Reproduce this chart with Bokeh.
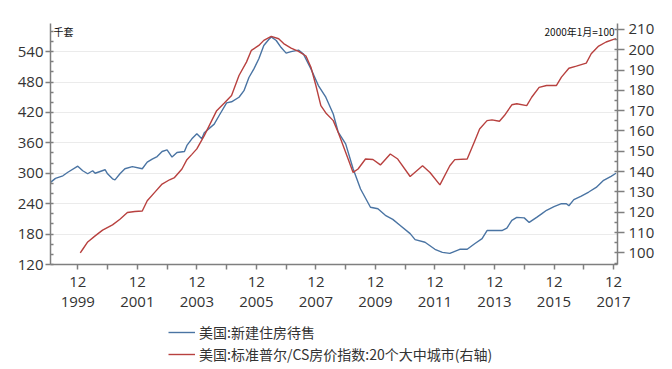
from bokeh.plotting import figure
from bokeh.layouts import column
from bokeh.models import (Range1d, LinearAxis, FixedTicker, Legend, LegendItem,
                          Label, ColumnDataSource)
from bokeh.embed import file_html
from bokeh.resources import INLINE

# ---- data ----
sales_dates = ["1999-01","1999-03","1999-06","1999-08","1999-12","2000-02","2000-04","2000-06",
               "2000-07","2000-11","2000-12","2001-02","2001-03","2001-05","2001-07","2001-10",
               "2002-02","2002-04","2002-06","2002-08","2002-10","2002-12","2003-02","2003-04",
               "2003-07","2003-08","2003-10","2003-12","2004-02","2004-03","2004-07","2004-09",
               "2004-12","2005-02","2005-05","2005-07","2005-09","2005-11","2006-01","2006-03",
               "2006-05","2006-06","2006-08","2006-10","2006-12","2007-02","2007-05","2007-07",
               "2007-10","2008-01","2008-04","2008-07","2008-09","2008-12","2009-03","2009-06",
               "2009-10","2010-01","2010-04","2010-07","2010-10","2011-02","2011-04","2011-08",
               "2011-12","2012-03","2012-06","2012-10","2013-01","2013-04","2013-07","2013-09",
               "2014-03","2014-05","2014-07","2014-09","2014-12","2015-02","2015-05","2015-07",
               "2015-09","2015-12","2016-03","2016-05","2016-06","2016-08","2016-11","2017-02",
               "2017-05","2017-08","2017-11","2018-01"]
sales_values = [282, 290, 295, 302, 314, 305, 299, 305,
                300, 307, 299, 289, 287, 299, 309, 313,
                309, 322, 328, 333, 343, 346, 332, 341,
                343, 355, 368, 378, 368, 380, 397, 414,
                439, 441, 450, 463, 489, 506, 526, 552,
                564, 569, 562, 548, 537, 540, 543, 535,
                506, 473, 450, 417, 381, 358, 309, 269,
                233, 230, 217, 209, 197, 181, 169, 164,
                150, 144, 142, 150, 150, 161, 171, 187,
                187, 192, 207, 213, 212, 203, 213, 220,
                227, 234, 240, 240, 236, 248, 255, 263,
                272, 286, 294, 300]

cs_dates = ["2000-01","2000-02","2000-04","2000-07","2000-10","2001-02","2001-05","2001-08",
            "2001-11","2002-02","2002-04","2002-07","2002-10","2003-01","2003-03","2003-06",
            "2003-08","2003-10","2003-12","2004-03","2004-06","2004-08","2004-11","2005-02",
            "2005-05","2005-08","2005-10","2006-01","2006-03","2006-06","2006-09","2006-11",
            "2007-02","2007-05","2007-08","2007-10","2007-12","2008-02","2008-04","2008-07",
            "2008-09","2008-10","2009-01","2009-03","2009-05","2009-08","2009-11","2010-02",
            "2010-06","2010-09","2011-02","2011-07","2011-10","2012-02","2012-06","2012-08",
            "2013-01","2013-04","2013-06","2013-09","2013-11","2014-02","2014-04","2014-07",
            "2014-09","2015-01","2015-03","2015-06","2015-09","2016-01","2016-03","2016-06",
            "2016-09","2017-01","2017-03","2017-06","2017-09","2017-12","2018-01"]
cs_values = [100.0, 101.8, 105.4, 108.4, 111.2, 113.8, 116.6, 119.9,
             120.4, 120.6, 125.7, 129.8, 133.9, 136.0, 137.1, 141.3,
             145.9, 148.5, 151.2, 157.7, 165.1, 170.0, 173.7, 177.5,
             187.3, 193.9, 199.7, 202.1, 204.6, 206.6, 205.4, 203.0,
             200.8, 199.2, 196.9, 191.4, 182.4, 172.5, 168.9, 165.1,
             159.3, 156.1, 146.2, 139.6, 141.3, 146.2, 146.0, 143.3,
             148.7, 146.2, 137.6, 142.9, 139.6, 133.5, 142.9, 145.9,
             146.2, 155.0, 161.0, 165.1, 165.5, 164.8, 167.6, 172.9,
             173.4, 172.5, 176.6, 181.5, 182.4, 182.4, 186.5, 190.9,
             191.9, 193.4, 198.0, 201.8, 203.8, 205.1, 205.4]

tick_years = [1999, 2001, 2003, 2005, 2007, 2009, 2011, 2013, 2015, 2017]
minor_years = [2000, 2002, 2004, 2006, 2008, 2010, 2012, 2014, 2016]
left_ticks = [120, 180, 240, 300, 360, 420, 480, 540]
right_ticks = [100, 110, 120, 130, 140, 150, 160, 170, 180, 190, 200, 210]

sales_name = "美国:新建住房待售"
cs_name = "美国:标准普尔/CS房价指数:20个大中城市(右轴)"


def to_month(s):
    y, m = s.split("-")
    return (int(y) - 1999) * 12 + int(m) - 1


FONT = "Open Sans"
AXIS_GREY = "#7f7f7f"
TEXT = "#333333"
BLUE = "#4a74a3"
RED = "#b8413f"
LW = 1.4
Y_TOP = 595.5
X_END = 228.6

p = figure(width=672, height=318, output_backend="svg", toolbar_location=None,
           x_range=Range1d(0, X_END), y_range=Range1d(120, Y_TOP),
           min_border_left=50, min_border_right=55, min_border_top=23, min_border_bottom=54)
p.outline_line_color = None
p.background_fill_color = "white"
p.border_fill_color = "white"

p.extra_y_ranges = {"right": Range1d(94.3, 212.9)}

src_s = ColumnDataSource(dict(x=[to_month(d) for d in sales_dates], y=sales_values))
src_c = ColumnDataSource(dict(x=[to_month(d) for d in cs_dates], y=cs_values))

p.line("x", "y", source=src_s, line_color=BLUE, line_width=LW)
p.line("x", "y", source=src_c, line_color=RED, line_width=LW, y_range_name="right")

# x axis
xa = p.xaxis[0]
major_x = [(y - 1999) * 12 + 11 for y in tick_years]
minor_x = [(y - 1999) * 12 + 11 for y in minor_years]
xa.ticker = FixedTicker(ticks=major_x, minor_ticks=minor_x)
xa.major_label_overrides = {m: "12\n%d" % y for m, y in zip(major_x, tick_years)}
xa.major_label_text_line_height = 1.0
xa.major_label_standoff = 1
xa.major_tick_out = 5
xa.major_tick_in = 0
xa.minor_tick_out = 5
xa.minor_tick_in = 0

# left axis
ya = p.yaxis[0]
ya.ticker = FixedTicker(ticks=left_ticks,
                        minor_ticks=[v for v in range(120, 596, 20)])
ya.major_tick_out = 5
ya.major_tick_in = 0
ya.minor_tick_in = 3
ya.minor_tick_out = 0
ya.major_label_standoff = 2

# right axis
ra = LinearAxis(y_range_name="right",
                ticker=FixedTicker(ticks=right_ticks,
                                   minor_ticks=[v for v in range(95, 212, 5)]))
ra.major_tick_out = 7
ra.major_tick_in = 0
ra.minor_tick_in = 3
ra.minor_tick_out = 0
ra.major_label_standoff = 4
p.add_layout(ra, "right")

for ax in [xa, ya, ra]:
    ax.axis_line_color = AXIS_GREY
    ax.axis_line_width = 1.5
    ax.major_tick_line_color = AXIS_GREY
    ax.major_tick_line_width = 1.5
    ax.minor_tick_line_color = AXIS_GREY
    ax.minor_tick_line_width = 1.5
    ax.major_label_text_font = FONT
    ax.major_label_text_font_size = "15px"
    ax.major_label_text_color = TEXT

p.xgrid.grid_line_color = None
p.ygrid.ticker = FixedTicker(ticks=left_ticks[1:])
p.ygrid.grid_line_color = "#ebebeb"
p.ygrid.grid_line_width = 1

# unit labels
p.add_layout(Label(x=0, y=Y_TOP, x_offset=3, y_offset=0, text="千套",
                   text_font="Noto Sans CJK SC",
                   text_font_size="10px", text_color="#111111", text_baseline="top",
                   text_align="left"))
p.add_layout(Label(x=X_END, y=Y_TOP, x_offset=-3, y_offset=0, text="2000年1月=100",
                   text_font="Noto Sans CJK SC", text_font_size="10px",
                   text_color="#111111", text_baseline="top", text_align="right"))

# ---- legend strip below the chart ----
lg = figure(width=672, height=51, output_backend="svg", toolbar_location=None,
            x_range=Range1d(0, 1), y_range=Range1d(0, 1),
            min_border_left=0, min_border_right=0, min_border_top=0, min_border_bottom=0)
lg.axis.visible = False
lg.grid.visible = False
lg.outline_line_color = None
lg.background_fill_color = "white"
lg.border_fill_color = "white"
nan = float("nan")
k_s = lg.line(x=[nan], y=[nan], line_color=BLUE, line_width=LW)
k_c = lg.line(x=[nan], y=[nan], line_color=RED, line_width=LW)

legend = Legend(items=[LegendItem(label=sales_name, renderers=[k_s]),
                       LegendItem(label=cs_name, renderers=[k_c])],
                location=(118, 5), orientation="vertical")
legend.border_line_color = None
legend.background_fill_alpha = 0
legend.padding = 0
legend.margin = 0
legend.spacing = 2
legend.glyph_width = 27
legend.glyph_height = 20
legend.label_height = 20
legend.label_standoff = 4
legend.label_text_font = "Noto Sans CJK SC"
legend.label_text_font_size = "14px"
legend.label_text_color = TEXT
lg.add_layout(legend, "center")

layout = column(p, lg, spacing=0)
open("out.html", "w").write(file_html(layout, INLINE))
